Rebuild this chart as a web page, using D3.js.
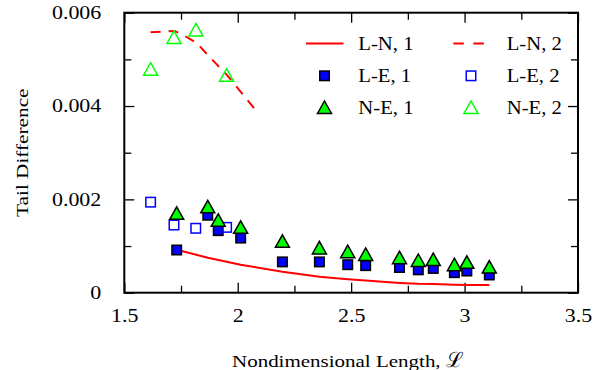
<!DOCTYPE html>
<html><head><meta charset="utf-8">
<script src="https://cdn.jsdelivr.net/npm/d3@7/dist/d3.min.js"></script>
<style>
html,body{margin:0;padding:0;background:#fff;}
svg{display:block;}
</style></head>
<body>
<svg id="chart" width="594" height="370"></svg>
<script>
// ---- data ----
const xTickValues = [1.5, 2, 2.5, 3, 3.5];
const xTickLabels = ["1.5", "2", "2.5", "3", "3.5"];
const xMinorTicks = [1.75, 2.25, 2.75, 3.25];
const yTickValues = [0, 0.002, 0.004, 0.006];
const yTickLabels = ["0", "0.002", "0.004", "0.006"];
const yMinorTicks = [0.001, 0.003, 0.005];

const lnx1 = [1.731, 1.868, 2.013, 2.197, 2.36, 2.485, 2.564, 2.713, 2.796, 2.862, 2.955, 3.01, 3.109];
const lny1 = [0.00092, 0.00075, 0.00060, 0.00045, 0.00034, 0.00029, 0.00026, 0.00021, 0.00019, 0.000185, 0.00017, 0.000165, 0.000165];

const lnx2 = [1.616, 1.72, 1.75, 1.82, 1.87, 1.95, 2.073];
const lny2 = [0.00558, 0.00561, 0.00555, 0.00535, 0.00508, 0.00468, 0.00395];

const lex1 = [1.731, 1.868, 1.914, 2.013, 2.197, 2.36, 2.485, 2.564, 2.713, 2.796, 2.862, 2.955, 3.01, 3.109];
const ley1 = [0.000915, 0.00166, 0.00133, 0.00117, 0.00066, 0.00066, 0.00060, 0.00058, 0.00054, 0.00049, 0.00052, 0.00043, 0.000465, 0.00038];

const lex2 = [1.616, 1.719, 1.815, 1.951];
const ley2 = [0.00194, 0.00145, 0.00138, 0.00140];

const nex1 = [1.731, 1.868, 1.914, 2.013, 2.197, 2.36, 2.485, 2.564, 2.713, 2.796, 2.862, 2.955, 3.01, 3.109];
const ney1 = [0.00170, 0.00184, 0.00155, 0.00140, 0.00110, 0.00096, 0.00088, 0.00082, 0.00075, 0.00069, 0.00071, 0.00060, 0.00065, 0.00055];

const nex2 = [1.616, 1.719, 1.816, 1.951];
const ney2 = [0.00479, 0.00547, 0.00563, 0.00466];

const legendLabels = ["L-N, 1", "L-N, 2", "L-E, 1", "L-E, 2", "N-E, 1", "N-E, 2"];
const xTitleMain = "Nondimensional Length,";
const xTitleSymbol = "ℒ";
const yTitle = "Tail Difference";

// ---- layout ----
const L = 124.3, R = 578, T = 12.7, B = 292.7;
const svg = d3.select("#chart");
const x = d3.scaleLinear().domain([1.5, 3.5]).range([L, R]);
const y = d3.scaleLinear().domain([0, 0.006]).range([B, T]);

const serif = "'Liberation Serif', 'Times New Roman', serif";
const TICK_SX = 1.22;

function styleAxis(g) {
  g.attr("font-family", null).attr("font-size", null);
  g.select(".domain").remove();
  g.selectAll(".tick line").attr("stroke", "#000").attr("stroke-width", 1.3);
  g.selectAll(".tick text").attr("fill", "#000")
    .style("font-family", serif).style("font-size", "18px");
}

// major axes
svg.append("g").attr("transform", `translate(0,${B})`)
  .call(d3.axisBottom(x).tickValues(xTickValues).tickFormat((d, i) => xTickLabels[i]).tickSizeInner(-10).tickSizeOuter(0).tickPadding(17))
  .call(styleAxis)
  .call(g => g.selectAll(".tick text").attr("transform", `scale(${TICK_SX},1)`));
svg.append("g").attr("transform", `translate(0,${T})`)
  .call(d3.axisTop(x).tickValues(xTickValues).tickFormat("").tickSizeInner(-10).tickSizeOuter(0))
  .call(styleAxis);
svg.append("g").attr("transform", `translate(${L},0)`)
  .call(d3.axisLeft(y).tickValues(yTickValues).tickFormat((d, i) => yTickLabels[i]).tickSizeInner(-10).tickSizeOuter(0).tickPadding(23 / TICK_SX))
  .call(styleAxis)
  .call(g => g.selectAll(".tick text").attr("transform", `scale(${TICK_SX},1)`));
svg.append("g").attr("transform", `translate(${R},0)`)
  .call(d3.axisRight(y).tickValues(yTickValues).tickFormat("").tickSizeInner(-10).tickSizeOuter(0))
  .call(styleAxis);
// minor ticks
svg.append("g").attr("transform", `translate(0,${B})`)
  .call(d3.axisBottom(x).tickValues(xMinorTicks).tickFormat("").tickSizeInner(-7).tickSizeOuter(0)).call(styleAxis);
svg.append("g").attr("transform", `translate(0,${T})`)
  .call(d3.axisTop(x).tickValues(xMinorTicks).tickFormat("").tickSizeInner(-7).tickSizeOuter(0)).call(styleAxis);
svg.append("g").attr("transform", `translate(${L},0)`)
  .call(d3.axisLeft(y).tickValues(yMinorTicks).tickFormat("").tickSizeInner(-7).tickSizeOuter(0)).call(styleAxis);
svg.append("g").attr("transform", `translate(${R},0)`)
  .call(d3.axisRight(y).tickValues(yMinorTicks).tickFormat("").tickSizeInner(-7).tickSizeOuter(0)).call(styleAxis);

// ---- series ----
const red = "#ff0000", blue = "#0000ff", green = "#00ff00";
const line = d3.line().x(d => x(d[0])).y(d => y(d[1]));
const zip = (a, b) => a.map((v, i) => [v, b[i]]);

svg.append("path").datum(zip(lnx1, lny1)).attr("d", line)
  .attr("fill", "none").attr("stroke", red).attr("stroke-width", 2);
svg.append("path").datum(zip(lnx2, lny2)).attr("d", line)
  .attr("fill", "none").attr("stroke", red).attr("stroke-width", 2).attr("stroke-dasharray", "10,8");

const SQ = 9.5;
function squares(data, fill, stroke) {
  svg.append("g").selectAll("rect").data(data).join("rect")
    .attr("x", d => x(d[0]) - SQ / 2).attr("y", d => y(d[1]) - SQ / 2)
    .attr("width", SQ).attr("height", SQ)
    .attr("fill", fill).attr("stroke", stroke).attr("stroke-width", 1.5);
}
const triPath = "M0,-6.5L7,6L-7,6Z";
function triangles(data, fill, stroke) {
  svg.append("g").selectAll("path").data(data).join("path")
    .attr("transform", d => `translate(${x(d[0])},${y(d[1])})`)
    .attr("d", triPath)
    .attr("fill", fill).attr("stroke", stroke).attr("stroke-width", 1.5).attr("stroke-linejoin", "miter");
}
squares(zip(lex1, ley1), blue, "#000");
squares(zip(lex2, ley2), "none", blue);
triangles(zip(nex1, ney1), green, "#000");
triangles(zip(nex2, ney2), "none", green);

// frame
svg.append("rect").attr("x", L).attr("y", T).attr("width", R - L).attr("height", B - T)
  .attr("fill", "none").attr("stroke", "#000").attr("stroke-width", 2);

// ---- legend ----
const legCols = [{sx: 324.5, tx: 358.3}, {sx: 471, tx: 506.7}];
const legRows = [50, 82.3, 114];
legendLabels.forEach((lab, i) => {
  const c = legCols[i % 2], r = legRows[Math.floor(i / 2)];
  const cy = r - 6.5;
  const g = svg.append("g");
  if (i === 0) g.append("line").attr("x1", 306).attr("x2", 343.5).attr("y1", cy).attr("y2", cy).attr("stroke", red).attr("stroke-width", 2);
  if (i === 1) g.append("line").attr("x1", 453.3).attr("x2", 484).attr("y1", cy).attr("y2", cy).attr("stroke", red).attr("stroke-width", 2).attr("stroke-dasharray", "10.5,9.5");
  if (i === 2 || i === 3) g.append("rect").attr("x", c.sx - SQ / 2).attr("y", cy - SQ / 2).attr("width", SQ).attr("height", SQ)
      .attr("fill", i === 2 ? blue : "none").attr("stroke", i === 2 ? "#000" : blue).attr("stroke-width", 1.5);
  if (i === 4 || i === 5) g.append("path").attr("transform", `translate(${c.sx},${cy})`).attr("d", triPath)
      .attr("fill", i === 4 ? green : "none").attr("stroke", i === 4 ? "#000" : green).attr("stroke-width", 1.5);
  g.append("text").attr("transform", `translate(${c.tx},${r}) scale(1.09,1)`).text(lab)
    .style("font-family", serif).style("font-size", "19px").attr("fill", "#000");
});

// ---- titles ----
const TSX = 1.2;
const xt = svg.append("text").attr("transform", `translate(232,366.5) scale(${TSX},1)`)
  .style("font-family", serif).style("font-size", "17.5px").attr("fill", "#000").text(xTitleMain);
const xtLen = xt.node().getComputedTextLength() * TSX;
svg.append("text").attr("transform", `translate(${232 + xtLen + 5},366.5)`)
  .style("font-family", serif).style("font-size", "21px").attr("fill", "#000").text(xTitleSymbol);
svg.append("text").attr("transform", `translate(27.5,${(T + B) / 2}) rotate(-90) scale(1.2,1)`).attr("text-anchor", "middle")
  .style("font-family", serif).style("font-size", "17.7px").attr("fill", "#000").text(yTitle);
</script>
</body></html>
